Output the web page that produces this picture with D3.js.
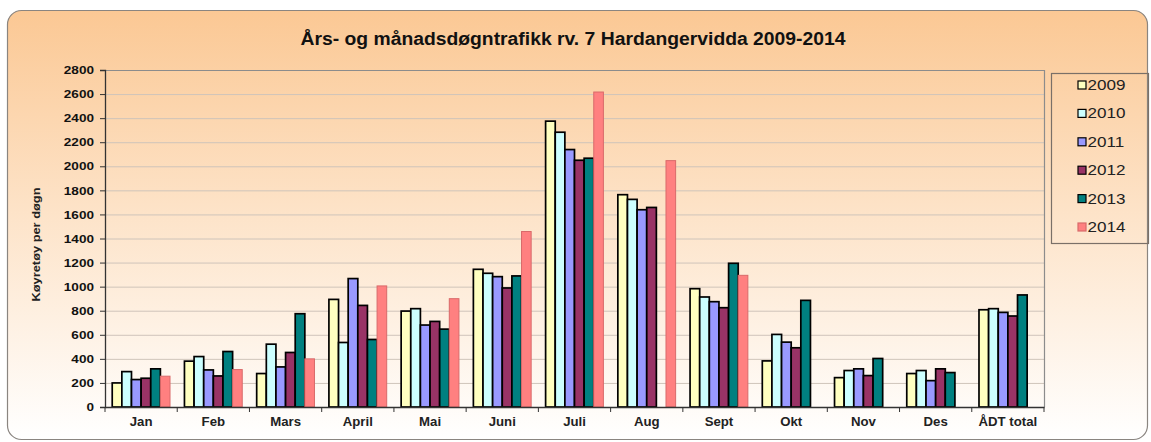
<!DOCTYPE html>
<html>
<head>
<meta charset="utf-8">
<script src="https://cdn.jsdelivr.net/npm/d3@7"></script>
<style>
    body { margin: 0; background: #fff; }
    svg { display: block; font-family: Arial, "Liberation Sans", sans-serif; }
</style>
</head>
<body>
<div id="chart"></div>
<script>
    /* data */
    const categories = ["Jan", "Feb", "Mars", "April", "Mai", "Juni", "Juli", "Aug", "Sept", "Okt", "Nov", "Des", "ÅDT total"];
    const years = ["2009", "2010", "2011", "2012", "2013", "2014"];
    const v2009 = [200, 381, 278, 894, 797, 1144, 2375, 1764, 983, 383, 244, 278, 808];
    const v2010 = [294, 419, 522, 536, 817, 1111, 2283, 1725, 914, 603, 303, 303, 817];
    const v2011 = [228, 308, 333, 1067, 681, 1083, 2139, 1639, 875, 539, 317, 219, 786];
    const v2012 = [239, 258, 453, 844, 711, 989, 2050, 1658, 825, 492, 261, 317, 756];
    const v2013 = [317, 461, 775, 561, 647, 1089, 2067, null, 1194, 886, 403, 286, 931];
    const v2014 = [256, 311, 400, 1006, 900, 1458, 2617, 2047, 1094, null, null, null, null];
    const yTicks = [0, 200, 400, 600, 800, 1000, 1200, 1400, 1600, 1800, 2000, 2200, 2400, 2600, 2800];

    const seriesValues = [v2009, v2010, v2011, v2012, v2013, v2014];
    const colors = ["#FFFFC0", "#CCFFFF", "#9999FF", "#993366", "#008080", "#FF8080"];
    const strokes = ["#000", "#000", "#000", "#000", "#000", "#d96a6a"];

    const W = 1151, H = 442;
    const plot = { left: 105, right: 1044, top: 70, bottom: 407 };

    // the original picture is a bit stretched sideways, so widen text to match
    function widen(sel, factor) {
        sel.each(function() {
            const len = this.getComputedTextLength();
            d3.select(this)
                .attr("textLength", len * factor)
                .attr("lengthAdjust", "spacingAndGlyphs");
        });
    }

    const svg = d3.select("#chart").append("svg")
        .attr("width", W).attr("height", H);

    /* background gradient */
    const defs = svg.append("defs");
    const grad = defs.append("linearGradient").attr("id", "bg")
        .attr("x1", 0).attr("y1", 0).attr("x2", 0).attr("y2", 1);
    grad.append("stop").attr("offset", "0%").attr("stop-color", "#FBC894");
    grad.append("stop").attr("offset", "45%").attr("stop-color", "#FDE2C6");
    grad.append("stop").attr("offset", "100%").attr("stop-color", "#FFFFFF");

    svg.append("rect")
        .attr("x", 7.5).attr("y", 10.5)
        .attr("width", 1140).attr("height", 429)
        .attr("rx", 14).attr("ry", 14)
        .attr("fill", "url(#bg)")
        .attr("stroke", "#8a8580").attr("stroke-width", 1.2);

    /* title */
    svg.append("text")
        .attr("x", 573).attr("y", 45)
        .attr("text-anchor", "middle")
        .attr("font-size", "18px").attr("font-weight", "bold")
        .attr("fill", "#111")
        .attr("textLength", 545).attr("lengthAdjust", "spacingAndGlyphs")
        .text("Års- og månadsdøgntrafikk rv. 7 Hardangervidda 2009-2014");

    /* scales */
    const x0 = d3.scaleBand().domain(categories).range([plot.left, plot.right]).padding(0);
    const x1 = d3.scaleBand().domain(years).range([0, x0.bandwidth()])
        .paddingInner(0).paddingOuter(0.75);
    const y = d3.scaleLinear().domain([0, 2800]).range([plot.bottom, plot.top]);

    /* gridlines */
    svg.append("g")
        .selectAll("line")
        .data(yTicks.filter(t => t > 0 && t < 2800))
        .join("line")
        .attr("x1", plot.left).attr("x2", plot.right)
        .attr("y1", d => y(d) + 0.5).attr("y2", d => y(d) + 0.5)
        .attr("stroke", "#cfc4ba").attr("stroke-width", 1);

    /* plot area border (top and right) */
    svg.append("path")
        .attr("d", `M${plot.left},${y(2800) + 0.5}H${plot.right + 0.5}V${plot.bottom}`)
        .attr("fill", "none").attr("stroke", "#8c8c8c").attr("stroke-width", 1.2);

    /* bars */
    const groups = svg.append("g").selectAll("g")
        .data(categories)
        .join("g")
        .attr("transform", d => `translate(${x0(d)},0)`);

    groups.selectAll("rect")
        .data((c, i) => years.map((yr, k) => ({ yr: yr, k: k, v: seriesValues[k][i] }))
            .filter(d => d.v !== null))
        .join("rect")
        .attr("x", d => x1(d.yr))
        .attr("width", x1.bandwidth())
        .attr("y", d => y(d.v))
        .attr("height", d => y(0) - y(d.v))
        .attr("fill", d => colors[d.k])
        .attr("stroke", d => strokes[d.k])
        .attr("stroke-width", d => d.k === 5 ? 1 : 1.7);

    /* y axis */
    const yAxis = svg.append("g")
        .attr("transform", `translate(${plot.left},0)`)
        .call(d3.axisLeft(y).tickValues(yTicks).tickSize(5).tickPadding(6).tickFormat(d3.format("d")));
    yAxis.select(".domain").attr("stroke", "#333").attr("stroke-width", 1.3);
    yAxis.selectAll(".tick line").attr("stroke", "#333");
    yAxis.selectAll("text")
        .attr("font-size", "11.5px").attr("font-weight", "bold")
        .attr("font-family", "Arial, 'Liberation Sans', sans-serif")
        .attr("fill", "#111")
        .call(widen, 1.18);

    /* x axis */
    const xAxis = svg.append("g")
        .attr("transform", `translate(0,${plot.bottom})`)
        .call(d3.axisBottom(x0).tickSize(0).tickPadding(10));
    xAxis.select(".domain").attr("stroke", "#333").attr("stroke-width", 1.3);
    xAxis.selectAll("text")
        .attr("font-size", "12px").attr("font-weight", "bold")
        .attr("font-family", "Arial, 'Liberation Sans', sans-serif")
        .attr("fill", "#222")
        .call(widen, 1.1);

    /* tick marks between categories */
    xAxis.append("g").selectAll("line")
        .data(categories.map(c => x0(c)).concat([plot.right]))
        .join("line")
        .attr("x1", d => d).attr("x2", d => d)
        .attr("y1", 0).attr("y2", 5)
        .attr("stroke", "#333");

    /* y axis title */
    svg.append("text")
        .attr("transform", `translate(40,${(plot.top + plot.bottom) / 2 + 6}) rotate(-90)`)
        .attr("text-anchor", "middle")
        .attr("font-size", "11px").attr("font-weight", "bold")
        .attr("fill", "#222")
        .attr("textLength", 114).attr("lengthAdjust", "spacingAndGlyphs")
        .text("Køyretøy per døgn");

    /* legend */
    const legend = svg.append("g");
    legend.append("rect")
        .attr("x", 1051.5).attr("y", 73.5)
        .attr("width", 97).attr("height", 170)
        .attr("fill", "none").attr("stroke", "#7a7068").attr("stroke-width", 1.2);

    const item = legend.selectAll("g.item")
        .data(years)
        .join("g").attr("class", "item")
        .attr("transform", (d, i) => `translate(1078,${85 + i * 28.4})`);
    item.append("rect")
        .attr("x", 0).attr("y", -4).attr("width", 8).attr("height", 8)
        .attr("fill", (d, i) => colors[i])
        .attr("stroke", (d, i) => strokes[i]).attr("stroke-width", 1.2);
    item.append("text")
        .attr("x", 9.5).attr("y", 5)
        .attr("font-size", "14px")
        .attr("fill", "#222")
        .text(d => d)
        .call(widen, 1.22);
</script>
</body>
</html>
